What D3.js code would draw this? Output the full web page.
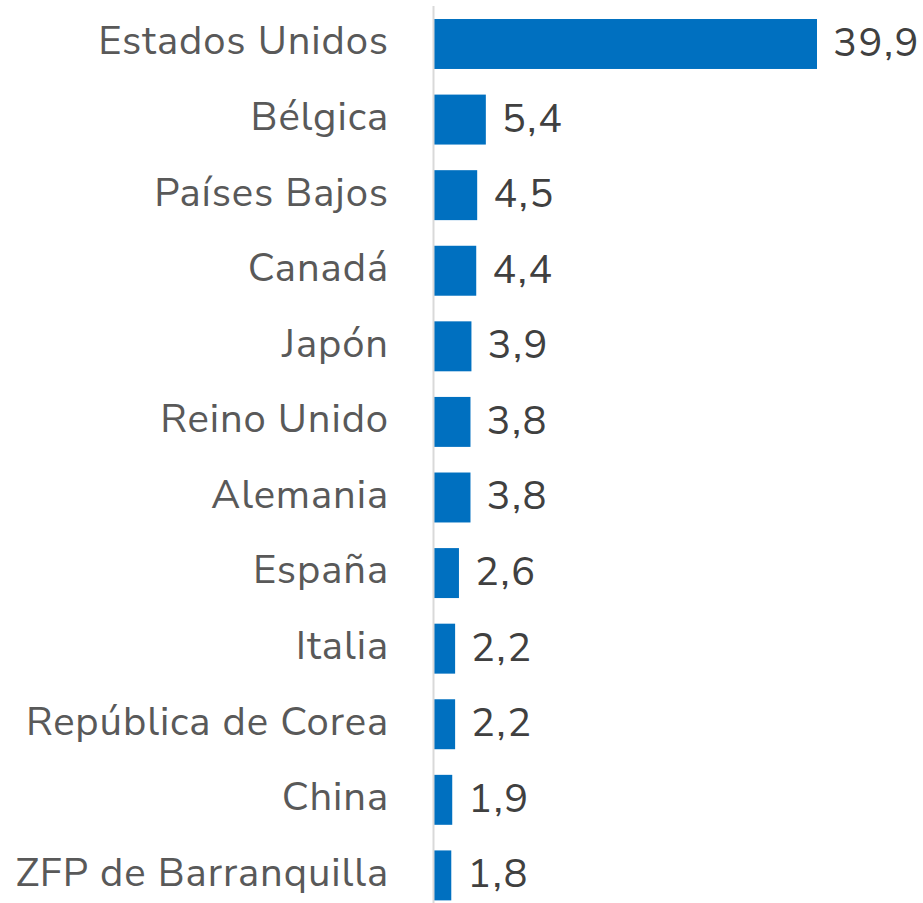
<!DOCTYPE html>
<html>
<head>
<meta charset="utf-8">
<script src="https://cdn.jsdelivr.net/npm/d3@7"></script>
<style>
  body { margin: 0; background: #fff; }
  svg { display: block; font-family: "Nunito Sans", Lato, sans-serif; }
</style>
</head>
<body>
<div id="chart"></div>
<script>
const countries = ["Estados Unidos", "Bélgica", "Países Bajos", "Canadá", "Japón", "Reino Unido",
  "Alemania", "España", "Italia", "República de Corea", "China", "ZFP de Barranquilla"];
const shares = [39.9, 5.4, 4.5, 4.4, 3.9, 3.8, 3.8, 2.6, 2.2, 2.2, 1.9, 1.8];

const width = 923;
const height = 903;
const axisX = 433.5;

const svg = d3.select('#chart')
  .append('svg')
  .attr('width', width)
  .attr('height', height);

const yScale = d3.scaleBand()
  .domain(countries)
  .range([6.2, 913.2])
  .paddingInner(0.339)
  .paddingOuter(0.1695);

const xScale = d3.scaleLinear()
  .domain([0, 39.9])
  .range([434, 817]);

const fmt = v => d3.format('.1f')(v).replace('.', ',');

// bars
svg.append('g')
  .selectAll('rect')
  .data(countries)
  .join('rect')
  .attr('x', xScale(0))
  .attr('y', d => yScale(d))
  .attr('width', (d, i) => xScale(shares[i]) - xScale(0))
  .attr('height', yScale.bandwidth())
  .attr('fill', '#0070C0');

// axis line
svg.append('line')
  .attr('x1', axisX).attr('x2', axisX)
  .attr('y1', 6).attr('y2', height)
  .attr('stroke', '#d9d9d9')
  .attr('stroke-width', 2);

// category labels
svg.append('g')
  .selectAll('text')
  .data(countries)
  .join('text')
  .attr('x', 389)
  .attr('y', d => yScale(d) + yScale.bandwidth() / 2)
  .attr('dy', '0.26em')
  .attr('text-anchor', 'end')
  .attr('font-size', 40)
  .attr('letter-spacing', 0.9)
  .attr('fill', '#595959')
  .text(d => d);

// value labels
svg.append('g')
  .selectAll('text')
  .data(countries)
  .join('text')
  .attr('x', (d, i) => xScale(shares[i]) + 16)
  .attr('y', d => yScale(d) + yScale.bandwidth() / 2)
  .attr('dy', '0.3em')
  .attr('font-size', 40)
  .attr('letter-spacing', 1.5)
  .attr('fill', '#404040')
  .text((d, i) => fmt(shares[i]));
</script>
</body>
</html>
